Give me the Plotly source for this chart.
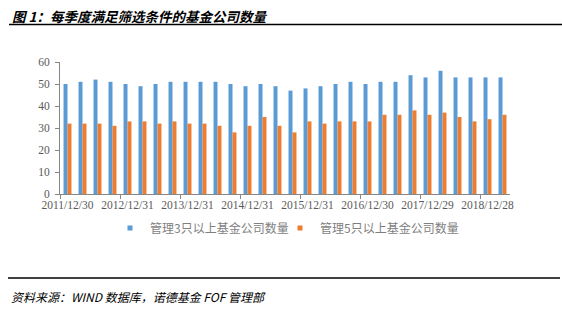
import plotly.graph_objects as go

# ---- data ----
quarters = list(range(30))  # 2011Q4 .. 2019Q1
tick_positions = [0, 4, 8, 12, 16, 20, 24, 28]
tick_labels = ["2011/12/30", "2012/12/31", "2013/12/31", "2014/12/31",
               "2015/12/31", "2016/12/30", "2017/12/29", "2018/12/28"]
series3_name = "管理3只以上基金公司数量"
series5_name = "管理5只以上基金公司数量"
series3 = [50, 51, 52, 51, 50, 49, 50, 51, 51, 51, 51, 50, 49, 50, 49,
           47, 48, 49, 50, 51, 50, 51, 51, 54, 53, 56, 53, 53, 53, 53]
series5 = [32, 32, 32, 31, 33, 33, 32, 33, 32, 32, 31, 28, 31, 35, 31,
           28, 33, 32, 33, 33, 33, 36, 36, 38, 36, 37, 35, 33, 34, 36]
title_text = "图 1：每季度满足筛选条件的基金公司数量"
source_text = "资料来源：WIND 数据库，诺德基金 FOF 管理部"
blue, orange = "#5B9BD5", "#ED7D31"

# ---- layout geometry (pixels) ----
W, H = 562, 310
L, R, T, B = 60, 510, 62, 194
pw, ph = R - L, B - T


def px(x):
    return (x - L) / pw


def py(y):
    return (B - y) / ph


fig = go.Figure()
fig.add_trace(go.Bar(x=quarters, y=series3, name=series3_name,
                     marker_color=blue, marker_line_width=0, showlegend=False))
fig.add_trace(go.Bar(x=quarters, y=series5, name=series5_name,
                     marker_color=orange, marker_line_width=0, showlegend=False))
# legend entries with small square swatches
fig.add_trace(go.Scatter(x=[None], y=[None], mode="markers", name=series3_name,
                         marker=dict(symbol="square", size=5, color=blue),
                         legend="legend"))
fig.add_trace(go.Scatter(x=[None], y=[None], mode="markers", name=series5_name,
                         marker=dict(symbol="square", size=5, color=orange),
                         legend="legend2"))

legend_font = dict(family="Noto Sans CJK SC", size=12, color="#7F7F7F")
fig.update_layout(
    width=W, height=H,
    margin=dict(l=L, r=W - R, t=T, b=H - B, pad=0),
    paper_bgcolor="white", plot_bgcolor="white",
    barmode="group", bargap=0.47, bargroupgap=0,
    showlegend=True,
    legend=dict(orientation="h", x=px(110), xanchor="left",
                y=py(228), yanchor="middle", font=legend_font,
                itemwidth=30, bgcolor="rgba(0,0,0,0)"),
    legend2=dict(orientation="h", x=px(280), xanchor="left",
                 y=py(228), yanchor="middle", font=legend_font,
                 itemwidth=30, bgcolor="rgba(0,0,0,0)"),
    font=dict(family="Liberation Serif", color="#595959"),
)

fig.update_xaxes(
    range=[-0.5, 29.5], tickmode="array", tickvals=tick_positions,
    ticktext=tick_labels, ticks="", showgrid=False, zeroline=False,
    showline=True, linecolor="#868686", linewidth=1,
    tickfont=dict(family="Liberation Serif", size=11.5, color="#595959"),
    minor=dict(ticks="outside", tick0=-0.5, dtick=4, ticklen=4,
               tickcolor="#868686", showgrid=False),
    fixedrange=True,
)
fig.update_yaxes(
    range=[0, 60], tickvals=[0, 10, 20, 30, 40, 50, 60], showgrid=False,
    zeroline=False, showline=True, linecolor="#868686", linewidth=1,
    ticks="outside", ticklen=4, tickcolor="#868686",
    ticklabelstandoff=3,
    tickfont=dict(family="Liberation Serif", size=11.5, color="#595959"),
    fixedrange=True,
)

# title
fig.add_annotation(
    text=title_text, xref="paper", yref="paper", x=px(10), y=py(16),
    xanchor="left", yanchor="middle", showarrow=False,
    font=dict(family="Noto Sans CJK SC", size=13.5, color="black",
              weight="bold", style="italic"),
)
# source
fig.add_annotation(
    text=source_text, xref="paper", yref="paper", x=px(9), y=py(296),
    xanchor="left", yanchor="middle", showarrow=False,
    font=dict(family="Noto Sans CJK SC", size=12, color="black",
              style="italic"),
)
# rules
fig.add_shape(type="line", xref="paper", yref="paper",
              x0=px(9), x1=px(562), y0=py(24.5), y1=py(24.5),
              line=dict(color="black", width=1.5))
fig.add_shape(type="line", xref="paper", yref="paper",
              x0=px(8), x1=px(560), y0=py(278), y1=py(278),
              line=dict(color="black", width=1.5))

fig.write_html("out.html")
